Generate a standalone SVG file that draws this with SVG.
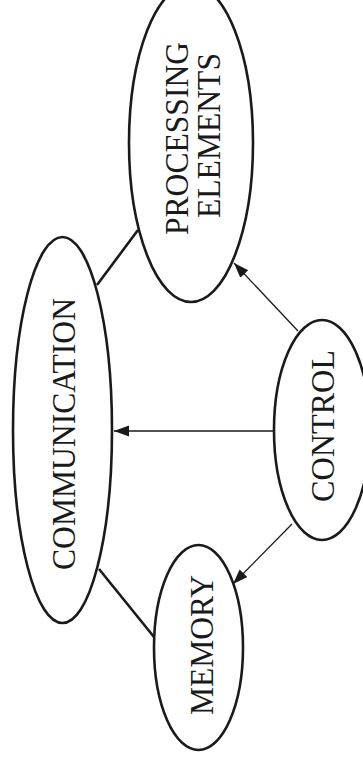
<svg xmlns="http://www.w3.org/2000/svg" width="363" height="769" viewBox="0 0 363 769">
<style>
.n{fill:#fff;stroke:#1a1a1a;stroke-width:2.6}
.t{font-family:"Liberation Serif","Times New Roman",serif;font-size:33px;fill:#1a1a1a;text-anchor:middle}
.thick{stroke:#1a1a1a;stroke-width:2.6;fill:none}
.thin{stroke:#1a1a1a;stroke-width:1.3;fill:none}
</style>
<defs>
<marker id="ah" markerUnits="userSpaceOnUse" markerWidth="16" markerHeight="12" refX="15" refY="5.5" orient="auto">
<path d="M0,0 L15,5.5 L0,11 z" fill="#1a1a1a"/>
</marker>
</defs>
<rect width="363" height="769" fill="#fff"/>
<g id="connectors">
<line class="thick" x1="138" y1="230" x2="97" y2="285"/>
<line class="thick" x1="99" y1="569" x2="154" y2="637"/>
<line class="thin" x1="298" y1="331" x2="234" y2="263" marker-end="url(#ah)"/>
<line class="thin" x1="275" y1="431" x2="114" y2="431" marker-end="url(#ah)"/>
<line class="thin" x1="292" y1="524" x2="233" y2="584" marker-end="url(#ah)"/>
</g>
<g id="pe">
<ellipse class="n" cx="191" cy="143" rx="62" ry="159"/>
<text class="t" transform="translate(188,138.5) rotate(-90)" textLength="193" lengthAdjust="spacingAndGlyphs">PROCESSING</text>
<text class="t" transform="translate(220,135.5) rotate(-90)" textLength="165" lengthAdjust="spacingAndGlyphs">ELEMENTS</text>
</g>
<g id="communication">
<ellipse class="n" cx="62.5" cy="430" rx="49.5" ry="193"/>
<text class="t" transform="translate(75,434) rotate(-90)" textLength="272" lengthAdjust="spacingAndGlyphs">COMMUNICATION</text>
</g>
<g id="control">
<ellipse class="n" cx="322" cy="430" rx="48" ry="110"/>
<text class="t" transform="translate(334,426) rotate(-90)" textLength="152" lengthAdjust="spacingAndGlyphs">CONTROL</text>
</g>
<g id="memory">
<ellipse class="n" cx="198.5" cy="647.5" rx="44.5" ry="102.5"/>
<text class="t" transform="translate(213,645) rotate(-90)" textLength="140" lengthAdjust="spacingAndGlyphs">MEMORY</text>
</g>
</svg>
